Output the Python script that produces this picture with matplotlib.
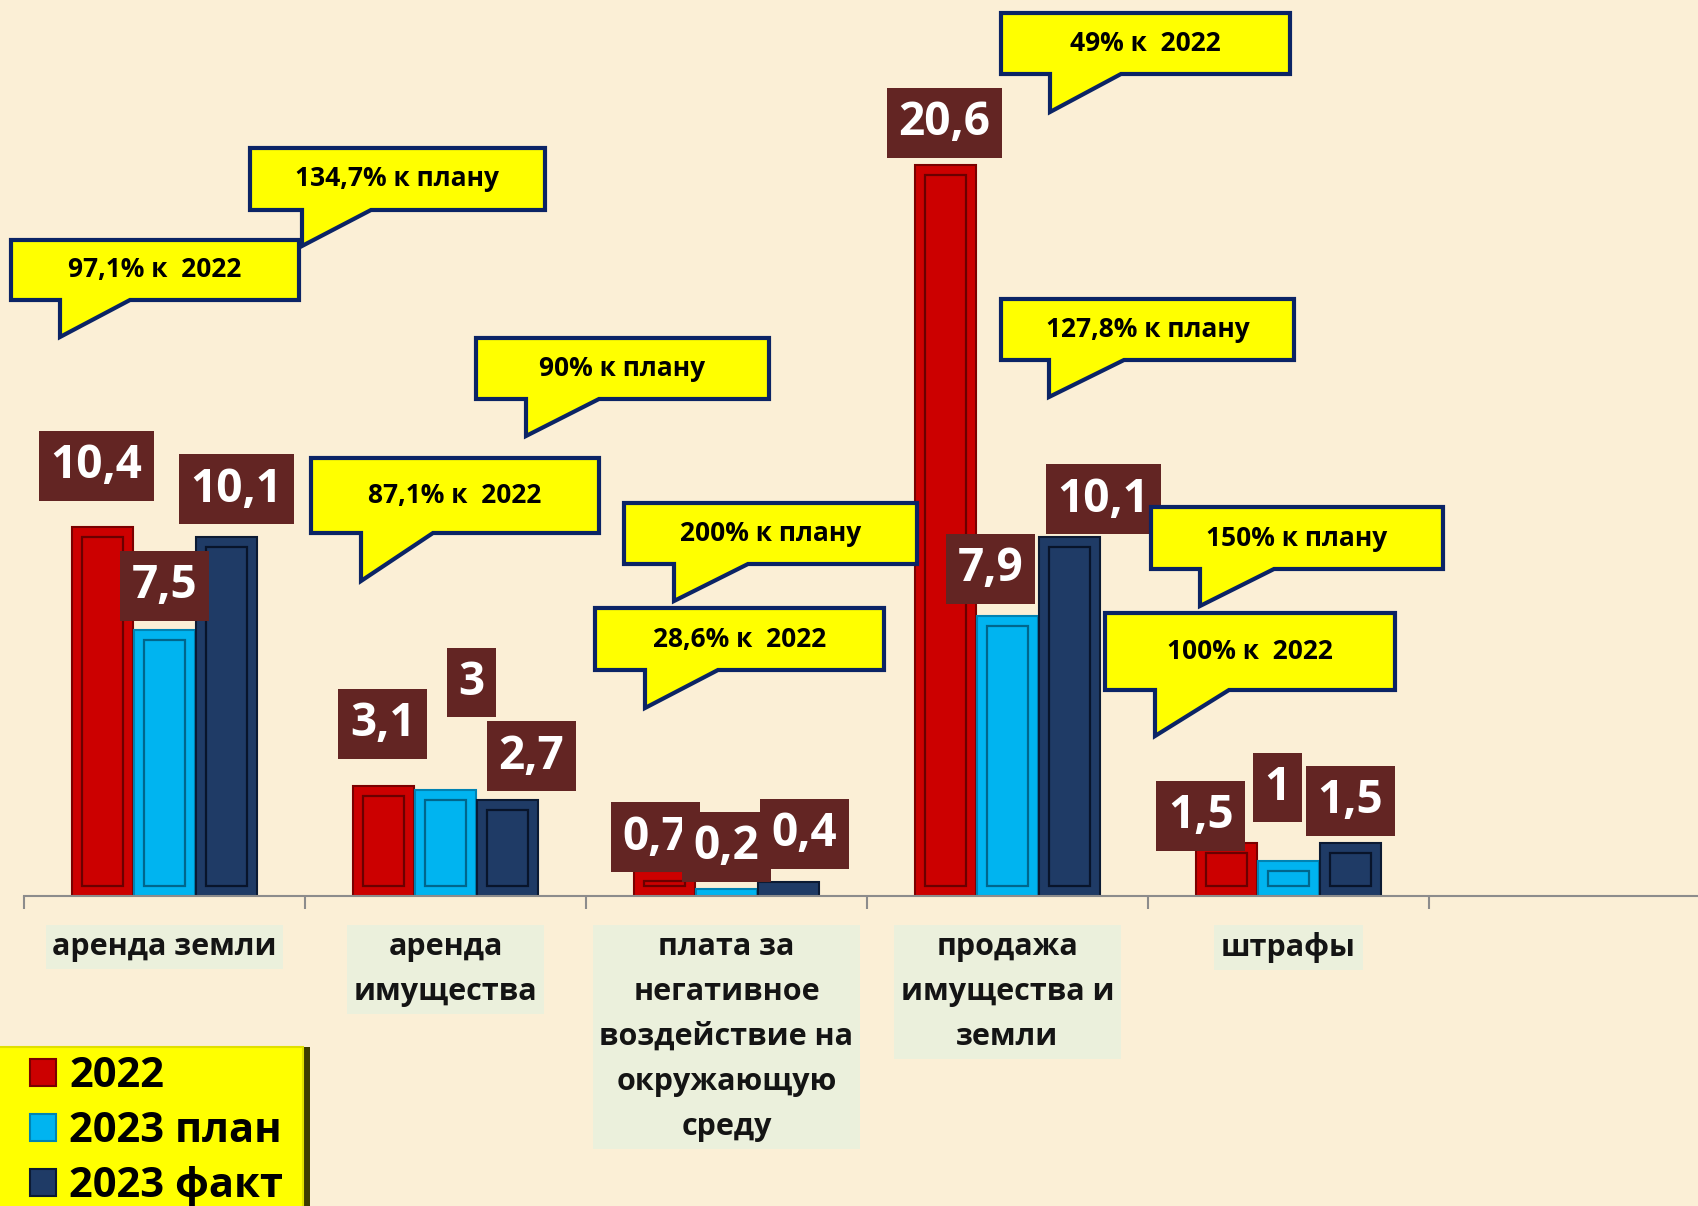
import numpy as np
import matplotlib
matplotlib.use("Agg")
import matplotlib.pyplot as plt
from matplotlib.patches import Polygon, Rectangle, Patch

plt.rcParams['font.family'] = ['Open Sans', 'DejaVu Sans']

# data
categories = ["аренда земли", "аренда\nимущества",
              "плата за\nнегативное\nвоздействие на\nокружающую\nсреду",
              "продажа\nимущества и\nземли", "штрафы"]
series_names = ["2022", "2023 план", "2023 факт"]
v2022 = [10.4, 3.1, 0.7, 20.6, 1.5]
v2023_plan = [7.5, 3.0, 0.2, 7.9, 1.0]
v2023_fact = [10.1, 2.7, 0.4, 10.1, 1.5]

callout_texts = ["134,7% к плану", "97,1% к  2022", "90% к плану", "87,1% к  2022",
                 "200% к плану", "28,6% к  2022", "49% к  2022", "127,8% к плану",
                 "150% к плану", "100% к  2022"]

# layout (pixels): value label offsets from bar top, callout boxes
label_offsets = [
    [(-6, 61), (-1, 62), (-9, 34), (-1, 42), (-26, 27)],
    [(0, 44), (26, 107), (0, 42), (-17, 47), (-11, 73)],
    [(10, 48), (24, 44), (16, 48), (34, 38), (0, 42)],
]
# x0, x1, y_top, y_bot, tail_left, tail_right, tail_tip
callout_boxes = [
    (250, 545, 148, 210, 302, 371, 246),
    (11, 299, 240, 300, 60, 130, 337),
    (476, 769, 338, 399, 526, 599, 436),
    (311, 599, 458, 533, 361, 433, 581),
    (624, 917, 503, 564, 674, 748, 601),
    (595, 884, 608, 670, 645, 718, 708),
    (1001, 1290, 13, 74, 1050, 1121, 112),
    (1001, 1294, 299, 360, 1049, 1124, 397),
    (1151, 1443, 507, 569, 1200, 1274, 606),
    (1105, 1395, 613, 690, 1155, 1229, 736),
]

colors = ["#cc0000", "#00b4f0", "#1f3b66"]
edges = ["#7a0000", "#0083b3", "#0b1a33"]
inner = ["#6a0000", "#00668c", "#08142a"]

W, H = 1699, 1206
fig = plt.figure(figsize=(W / 100, H / 100), dpi=100)
fig.patch.set_facecolor("#fbefd6")

base_px = 896
ax = fig.add_axes([24 / W, 1 - base_px / H, 6 * 281 / W, base_px / H])
ax.set_facecolor("none")
ax.set_xlim(-0.5, 5.5)
ax.set_ylim(0, base_px / 35.5)

x = np.arange(len(categories))
width = 0.215
offs = [-0.22, 0.0, 0.22]
inset_x = 10 / 281
inset_y = 10 / 35.5

all_vals = [v2022, v2023_plan, v2023_fact]
for s, vals in enumerate(all_vals):
    xs = x + offs[s]
    ax.bar(xs, vals, width, color=colors[s], edgecolor=edges[s], linewidth=1.5,
           label=series_names[s], zorder=2)
    for xi, v in zip(xs, vals):
        if v > 2 * inset_y + 0.05:
            ax.bar(xi, v - 2 * inset_y, width - 2 * inset_x, bottom=inset_y,
                   fill=False, edgecolor=inner[s], linewidth=1.6, zorder=3)
    for i, (xi, v) in enumerate(zip(xs, vals)):
        dx, dy = label_offsets[s][i]
        ax.annotate(f"{v:g}".replace(".", ","), xy=(xi, v), xytext=(dx, dy),
                    textcoords="offset pixels", ha="center", va="center",
                    fontsize=33, fontweight="bold", color="white", zorder=5,
                    bbox=dict(boxstyle="square,pad=0.25", facecolor="#632523",
                              edgecolor="none"))

for sp in ["top", "right", "left"]:
    ax.spines[sp].set_visible(False)
ax.spines["bottom"].set_color("#8c8c8c")
ax.spines["bottom"].set_linewidth(1.5)
ax.set_yticks([])
ax.set_xticks(np.arange(-0.5, 6, 1.0))
ax.set_xticklabels([])
ax.tick_params(axis="x", which="major", length=9, width=1.5, color="#8c8c8c")
ax.set_xticks(x, categories, minor=True)
ax.tick_params(axis="x", which="minor", length=0, pad=26)
for lbl in ax.get_xticklabels(minor=True):
    lbl.set_fontsize(22)
    lbl.set_fontweight("bold")
    lbl.set_color("#141414")
    lbl.set_linespacing(1.65)
    lbl.set_multialignment("center")
    lbl.set_bbox(dict(boxstyle="square,pad=0.22", facecolor="#ebf0dc", edgecolor="none"))


def px(xp, yp):
    return (xp / W, 1 - yp / H)


# callouts
for txt, (x0, x1, yt, yb, tl, tr, tip) in zip(callout_texts, callout_boxes):
    pts = [px(x0, yt), px(x1, yt), px(x1, yb), px(tr, yb), px(tl, tip),
           px(tl, yb), px(x0, yb)]
    fig.patches.append(Polygon(pts, closed=True, transform=fig.transFigure,
                               facecolor="#ffff00", edgecolor="#0b2465",
                               linewidth=3, joinstyle="miter", zorder=6))
    cx, cy = px((x0 + x1) / 2, (yt + yb) / 2)
    fig.text(cx, cy, txt, ha="center", va="center", fontsize=19,
             fontweight="bold", color="black", zorder=7)

# legend box
fig.patches.append(Rectangle(px(-5, 1215), 315 / W, 168 / H, transform=fig.transFigure,
                             facecolor="#3c3c00", edgecolor="none", zorder=6))
fig.patches.append(Rectangle(px(-5, 1215), 308 / W, 168 / H, transform=fig.transFigure,
                             facecolor="#ffff00", edgecolor="#e0e000", linewidth=1.5,
                             zorder=6))
handles = [Patch(facecolor=colors[s], edgecolor=edges[s], linewidth=1.5)
           for s in range(3)]
leg = fig.legend(handles, series_names, loc="upper left", bbox_to_anchor=px(30, 1056),
                 frameon=False, borderpad=0, borderaxespad=0, handlelength=0.62,
                 handleheight=0.62, handletextpad=0.32, labelspacing=0.34,
                 prop=dict(family="Open Sans", weight="bold", size=30))
leg.set_zorder(8)

fig.savefig("out.png", dpi=100, facecolor=fig.get_facecolor())
